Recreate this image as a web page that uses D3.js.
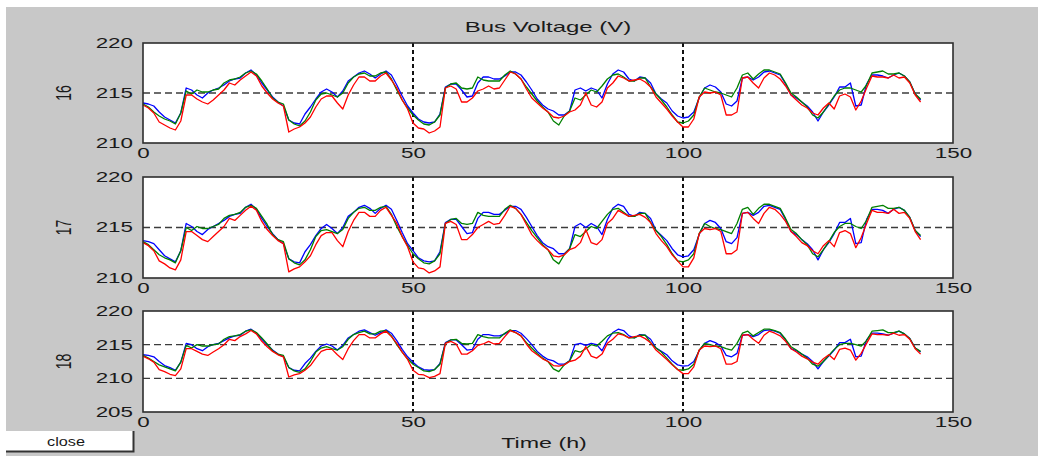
<!DOCTYPE html>
<html>
<head>
<meta charset="utf-8">
<script src="https://cdn.jsdelivr.net/npm/d3@7"></script>
<style>
    body { margin: 0; background: #fff; }
    text { font-family: "Liberation Sans", Arial, sans-serif; fill: #1a1a1a; }
</style>
</head>
<body>
<div id="chartContainer"></div>
<script>
// hourly samples, 0..144 h
const hours = d3.range(0, 145);

const xTicks = [0, 50, 100, 150];
const yTicks16 = [210, 215, 220];
const yTicks17 = [210, 215, 220];
const yTicks18 = [205, 210, 215, 220];
const busNames = ["16", "17", "18"];

const blue16 = [
    214.0,213.9,213.7,213.1,212.6,212.3,212.0,213.0,215.5,215.3,
    214.8,214.5,215.0,215.3,215.5,215.8,216.2,216.4,216.5,217.0,
    217.3,216.8,216.0,215.3,214.6,214.1,213.7,212.3,212.0,211.9,
    212.9,213.6,214.4,215.1,215.4,215.1,214.6,215.2,216.2,216.6,
    217.0,217.2,216.9,216.5,216.9,217.2,216.8,215.8,214.7,213.7,
    213.0,212.4,212.1,212.0,212.1,212.9,215.6,215.9,215.9,215.3,
    214.6,214.7,216.0,216.6,216.6,216.4,216.4,216.7,217.1,217.1,
    216.8,216.1,215.3,214.4,213.8,213.4,213.2,212.8,212.8,213.2,
    215.3,215.5,215.2,215.5,215.3,214.5,215.9,216.9,217.3,217.1,
    216.4,216.2,216.6,216.5,216.0,214.9,214.4,214.0,213.2,212.7,
    212.5,212.6,213.1,214.5,215.5,215.8,215.6,215.1,213.9,213.7,
    214.2,216.5,216.6,216.3,216.6,217.1,217.2,217.0,216.8,215.9,
    214.8,214.5,214.1,213.7,213.1,212.2,213.1,213.8,214.6,215.6,
    215.6,216.0,213.7,213.8,215.9,216.8,216.8,216.7,216.5,216.8,
    217.0,216.7,216.1,214.9,214.3
];
const green16 = [
    213.9,213.6,213.1,212.7,212.4,212.2,211.9,213.0,215.2,214.9,
    215.3,215.1,215.1,215.3,215.4,216.0,216.3,216.4,216.6,217.0,
    217.2,216.9,216.2,215.4,214.5,214.1,213.9,212.3,211.9,211.7,
    212.2,213.1,214.3,214.9,215.0,214.8,214.6,215.0,216.0,216.6,
    216.9,217.0,216.7,216.7,217.0,217.1,216.4,215.3,214.3,213.5,
    212.8,212.3,211.9,211.8,212.1,212.8,215.5,215.9,216.0,215.5,
    215.4,215.5,216.6,216.3,216.2,216.2,216.2,216.8,217.2,216.9,
    216.4,215.6,214.9,214.2,213.6,213.1,212.2,211.8,212.7,213.2,
    214.5,214.3,214.8,215.3,215.1,215.7,216.4,216.8,216.9,216.6,
    216.2,216.2,216.5,216.5,215.6,214.9,214.3,213.6,212.8,212.1,
    212.0,212.2,212.8,214.6,215.5,215.3,215.1,215.0,214.8,214.6,
    215.5,216.8,217.0,216.4,216.9,217.3,217.3,217.1,216.9,216.0,
    215.0,214.6,214.1,213.6,212.8,212.5,213.1,213.9,214.7,215.3,
    215.5,215.5,215.3,215.1,215.8,217.0,217.1,217.2,216.9,216.9,
    217.0,216.7,216.1,214.9,214.4
];
const red16 = [
    213.8,213.5,213.0,212.1,211.8,211.5,211.3,212.2,214.8,214.8,
    214.4,214.1,213.9,214.3,214.8,215.3,216.0,215.8,216.3,216.7,
    217.1,216.7,215.7,215.0,214.4,214.0,213.7,211.1,211.4,211.6,
    212.0,212.6,213.6,214.4,214.7,214.7,214.0,213.4,214.8,215.8,
    216.6,216.6,216.2,216.2,216.7,217.0,216.3,215.5,214.3,213.4,
    212.0,211.5,211.4,211.0,211.2,211.6,215.5,215.7,215.4,214.1,
    214.1,214.5,215.2,215.4,215.7,215.4,215.5,216.3,217.1,216.9,
    216.4,215.4,214.5,214.0,213.5,213.1,212.6,212.5,212.7,213.1,
    213.3,213.8,215.0,213.8,213.6,214.1,215.5,216.0,216.7,216.5,
    216.2,216.3,216.4,216.1,215.6,214.6,214.0,213.4,212.7,212.1,
    211.6,211.6,212.4,214.6,215.1,215.0,215.1,214.8,212.8,212.8,
    213.1,216.5,216.6,216.0,215.5,216.5,217.0,216.8,216.4,215.7,
    214.8,214.3,213.8,213.5,213.0,212.8,213.5,214.0,213.4,214.7,
    214.9,214.6,213.3,214.2,215.5,216.7,216.6,216.6,216.5,216.8,
    216.5,216.6,216.0,214.8,214.1
];

const blue17 = [
    213.7,213.6,213.4,212.8,212.2,211.9,211.6,212.7,215.4,215.1,
    214.6,214.3,214.8,215.1,215.4,215.7,216.1,216.3,216.4,217.0,
    217.3,216.8,215.9,215.1,214.4,213.8,213.4,211.9,211.6,211.5,
    212.6,213.3,214.2,214.9,215.3,214.9,214.4,215.0,216.1,216.5,
    217.0,217.2,216.9,216.4,216.9,217.2,216.8,215.7,214.5,213.4,
    212.7,212.0,211.7,211.6,211.7,212.6,215.5,215.8,215.8,215.1,
    214.4,214.5,215.9,216.5,216.5,216.3,216.3,216.7,217.1,217.1,
    216.8,216.0,215.1,214.2,213.5,213.1,212.9,212.4,212.4,212.9,
    215.1,215.4,215.0,215.4,215.1,214.3,215.8,216.9,217.3,217.1,
    216.3,216.1,216.5,216.4,215.9,214.7,214.2,213.7,212.9,212.3,
    212.1,212.2,212.8,214.3,215.4,215.7,215.5,214.9,213.6,213.4,
    214.0,216.4,216.5,216.2,216.5,217.1,217.2,217.0,216.8,215.8,
    214.6,214.3,213.8,213.4,212.8,211.8,212.8,213.5,214.4,215.5,
    215.5,215.9,213.4,213.5,215.8,216.8,216.8,216.7,216.4,216.8,
    217.0,216.7,216.0,214.7,214.1
];
const green17 = [
    213.6,213.3,212.8,212.3,212.0,211.8,211.5,212.7,215.0,214.7,
    215.1,214.9,214.9,215.1,215.3,215.9,216.2,216.3,216.5,217.0,
    217.2,216.9,216.1,215.3,214.3,213.8,213.6,211.9,211.5,211.3,
    211.8,212.8,214.1,214.7,214.8,214.6,214.4,214.8,215.9,216.5,
    216.9,217.0,216.7,216.7,217.0,217.1,216.3,215.1,214.1,213.2,
    212.4,211.9,211.5,211.4,211.7,212.4,215.4,215.8,215.9,215.4,
    215.3,215.4,216.5,216.2,216.1,216.1,216.1,216.8,217.2,216.9,
    216.3,215.5,214.7,214.0,213.3,212.8,211.8,211.4,212.3,212.9,
    214.3,214.1,214.6,215.1,214.9,215.6,216.3,216.8,216.9,216.5,
    216.1,216.1,216.4,216.4,215.5,214.7,214.1,213.3,212.4,211.7,
    211.6,211.8,212.4,214.4,215.4,215.1,214.9,214.8,214.6,214.4,
    215.4,216.8,217.0,216.3,216.9,217.3,217.3,217.1,216.9,215.9,
    214.8,214.4,213.8,213.3,212.4,212.1,212.8,213.6,214.5,215.1,
    215.4,215.4,215.1,214.9,215.7,217.0,217.1,217.2,216.9,216.9,
    217.0,216.7,216.0,214.7,214.2
];
const red17 = [
    213.5,213.2,212.7,211.7,211.4,211.0,210.8,211.8,214.6,214.6,
    214.2,213.8,213.6,214.1,214.6,215.1,215.9,215.7,216.2,216.7,
    217.1,216.7,215.6,214.8,214.2,213.7,213.4,210.6,210.9,211.1,
    211.6,212.2,213.3,214.2,214.5,214.5,213.7,213.1,214.6,215.7,
    216.5,216.5,216.1,216.1,216.7,217.0,216.2,215.4,214.1,213.1,
    211.6,211.0,210.9,210.5,210.7,211.1,215.4,215.6,215.3,213.8,
    213.8,214.3,215.0,215.3,215.6,215.3,215.4,216.2,217.1,216.9,
    216.3,215.3,214.3,213.7,213.2,212.8,212.2,212.1,212.3,212.8,
    213.0,213.5,214.8,213.5,213.3,213.8,215.4,215.9,216.7,216.4,
    216.1,216.2,216.3,216.0,215.5,214.4,213.7,213.1,212.3,211.7,
    211.1,211.1,212.0,214.4,214.9,214.8,214.9,214.6,212.4,212.4,
    212.8,216.4,216.5,215.9,215.4,216.4,217.0,216.8,216.3,215.6,
    214.6,214.1,213.5,213.2,212.7,212.4,213.2,213.7,213.1,214.5,
    214.7,214.4,213.0,214.0,215.4,216.7,216.5,216.5,216.4,216.8,
    216.4,216.5,215.9,214.6,213.8
];

const blue18 = [
    213.5,213.4,213.2,212.5,211.9,211.6,211.2,212.4,215.2,215.0,
    214.4,214.1,214.7,215.0,215.2,215.6,216.0,216.3,216.4,217.0,
    217.3,216.7,215.8,215.0,214.2,213.6,213.2,211.6,211.2,211.1,
    212.2,213.0,214.0,214.8,215.1,214.8,214.2,214.9,216.0,216.5,
    217.0,217.2,216.8,216.4,216.8,217.2,216.7,215.6,214.3,213.2,
    212.4,211.7,211.3,211.2,211.3,212.2,215.3,215.7,215.7,215.0,
    214.2,214.3,215.8,216.5,216.5,216.3,216.3,216.6,217.1,217.1,
    216.7,215.9,215.0,214.0,213.3,212.8,212.6,212.1,212.1,212.6,
    215.0,215.2,214.9,215.2,215.0,214.1,215.7,216.8,217.3,217.1,
    216.3,216.0,216.5,216.4,215.8,214.5,214.0,213.5,212.6,212.0,
    211.8,211.9,212.5,214.1,215.2,215.6,215.3,214.8,213.4,213.2,
    213.7,216.4,216.5,216.2,216.5,217.1,217.2,217.0,216.7,215.7,
    214.4,214.1,213.6,213.2,212.5,211.4,212.5,213.3,214.2,215.3,
    215.3,215.8,213.2,213.3,215.7,216.7,216.7,216.6,216.4,216.7,
    217.0,216.6,215.9,214.5,213.9
];
const green18 = [
    213.4,213.0,212.5,212.0,211.7,211.4,211.1,212.4,214.9,214.5,
    215.0,214.8,214.8,215.0,215.1,215.8,216.2,216.3,216.5,217.0,
    217.2,216.8,216.0,215.1,214.1,213.6,213.4,211.6,211.1,210.9,
    211.4,212.5,213.9,214.5,214.7,214.4,214.2,214.7,215.8,216.5,
    216.8,217.0,216.6,216.6,217.0,217.1,216.3,215.0,213.9,212.9,
    212.1,211.6,211.1,211.0,211.3,212.1,215.2,215.7,215.8,215.2,
    215.1,215.2,216.5,216.2,216.0,216.0,216.0,216.7,217.2,216.8,
    216.3,215.3,214.5,213.7,213.0,212.5,211.4,211.0,212.0,212.6,
    214.1,213.9,214.4,215.0,214.8,215.5,216.3,216.7,216.8,216.5,
    216.0,216.0,216.4,216.4,215.3,214.5,213.9,213.0,212.1,211.3,
    211.2,211.4,212.1,214.2,215.2,215.0,214.8,214.7,214.4,214.2,
    215.2,216.7,217.0,216.3,216.8,217.3,217.3,217.1,216.8,215.8,
    214.7,214.2,213.6,213.0,212.1,211.8,212.5,213.4,214.3,215.0,
    215.2,215.2,215.0,214.8,215.6,217.0,217.1,217.2,216.8,216.8,
    217.0,216.6,215.9,214.5,214.0
];
const red18 = [
    213.3,212.9,212.4,211.3,211.0,210.6,210.4,211.4,214.4,214.4,
    214.0,213.6,213.4,213.9,214.4,215.0,215.8,215.6,216.2,216.6,
    217.1,216.6,215.5,214.7,214.0,213.5,213.2,210.2,210.5,210.7,
    211.2,211.9,213.0,214.0,214.3,214.3,213.5,212.8,214.4,215.6,
    216.5,216.5,216.0,216.0,216.6,217.0,216.2,215.2,213.9,212.8,
    211.2,210.6,210.5,210.1,210.3,210.7,215.2,215.5,215.1,213.6,
    213.6,214.1,214.9,215.1,215.5,215.1,215.2,216.2,217.1,216.8,
    216.3,215.1,214.1,213.5,212.9,212.5,211.9,211.8,212.0,212.5,
    212.7,213.3,214.7,213.3,213.0,213.6,215.2,215.8,216.6,216.4,
    216.0,216.2,216.3,215.9,215.3,214.2,213.5,212.8,212.0,211.3,
    210.7,210.7,211.7,214.2,214.8,214.7,214.8,214.4,212.1,212.1,
    212.5,216.4,216.5,215.8,215.2,216.4,217.0,216.7,216.3,215.5,
    214.4,213.9,213.3,212.9,212.4,212.1,212.9,213.5,212.8,214.3,
    214.5,214.2,212.7,213.7,215.2,216.6,216.5,216.5,216.4,216.7,
    216.4,216.5,215.8,214.4,213.6
];

const panels = [
    { name: busNames[0], ticks: yTicks16, series: [blue16, green16, red16] },
    { name: busNames[1], ticks: yTicks17, series: [blue17, green17, red17] },
    { name: busNames[2], ticks: yTicks18, series: [blue18, green18, red18] }
];

const width = 1038, height = 456;
const plotLeft = 143, plotRight = 953;
const frames = [
    { top: 43, bottom: 143 },
    { top: 177, bottom: 278 },
    { top: 311, bottom: 412 }
];
const lineColors = ["#0000ff", "#008000", "#ff0000"];
const SX = 1.6; // the screenshot is stretched sideways

const svg = d3.select("#chartContainer")
    .append("svg")
    .attr("width", width)
    .attr("height", height);

// figure background
svg.append("rect")
    .attr("x", 6).attr("y", 7)
    .attr("width", width - 6).attr("height", height - 7)
    .attr("fill", "#c8c8c8");

const x = d3.scaleLinear().domain([0, 150]).range([plotLeft, plotRight]);

panels.forEach(function(p, i) {
    const f = frames[i];
    const y = d3.scaleLinear()
        .domain([p.ticks[0], p.ticks[p.ticks.length - 1]])
        .range([f.bottom, f.top]);

    const g = svg.append("g");

    g.append("rect")
        .attr("x", plotLeft).attr("y", f.top)
        .attr("width", plotRight - plotLeft).attr("height", f.bottom - f.top)
        .attr("fill", "#fff");

    // grid at inner ticks
    g.selectAll(".hgrid")
        .data(p.ticks.slice(1, -1))
        .enter().append("line")
        .attr("x1", plotLeft).attr("x2", plotRight)
        .attr("y1", d => y(d)).attr("y2", d => y(d))
        .attr("stroke", "#3c3c3c")
        .attr("stroke-width", 1.4)
        .attr("stroke-dasharray", "7,4");

    g.selectAll(".vgrid")
        .data(xTicks.slice(1, -1))
        .enter().append("line")
        .attr("x1", d => x(d)).attr("x2", d => x(d))
        .attr("y1", f.top).attr("y2", f.bottom)
        .attr("stroke", "#111")
        .attr("stroke-width", 2)
        .attr("stroke-dasharray", "4,3");

    const line = d3.line()
        .x((d, j) => x(hours[j]))
        .y(d => y(d));

    p.series.forEach(function(s, k) {
        g.append("path")
            .datum(s)
            .attr("d", line)
            .attr("fill", "none")
            .attr("stroke", lineColors[k])
            .attr("stroke-width", 1.3)
            .attr("stroke-linejoin", "round");
    });

    // axes box
    g.append("rect")
        .attr("x", plotLeft).attr("y", f.top)
        .attr("width", plotRight - plotLeft).attr("height", f.bottom - f.top)
        .attr("fill", "none")
        .attr("stroke", "#2e2e2e")
        .attr("stroke-width", 1.6);

    // Y-Achse
    const ya = g.append("g")
        .attr("transform", "translate(" + plotLeft + ",0)")
        .call(d3.axisLeft(y).tickValues(p.ticks).tickSize(0).tickPadding(0));
    ya.select(".domain").remove();
    ya.attr("font-size", 14).attr("font-family", null);
    ya.selectAll("text")
        .attr("x", -10 / SX)
        .attr("transform", "scale(" + SX + ",1)");

    // X-Achse
    const xa = g.append("g")
        .attr("transform", "translate(0," + f.bottom + ")")
        .call(d3.axisBottom(x).tickValues(xTicks).tickSize(0).tickPadding(0));
    xa.select(".domain").remove();
    xa.attr("font-size", 14).attr("font-family", null);
    xa.selectAll("text")
        .attr("y", 5)
        .attr("transform", "scale(" + SX + ",1)");

    // bus label
    g.append("text")
        .attr("transform", "translate(71," + ((f.top + f.bottom) / 2) + ") scale(" + SX + ",1) rotate(-90)")
        .attr("text-anchor", "middle")
        .attr("font-size", 14)
        .text(p.name);
});

svg.append("text")
    .attr("transform", "translate(548,32) scale(" + SX + ",1)")
    .attr("text-anchor", "middle")
    .attr("font-size", 15)
    .text("Bus Voltage (V)");

svg.append("text")
    .attr("transform", "translate(544,448) scale(1.55,1)")
    .attr("text-anchor", "middle")
    .attr("font-size", 15)
    .text("Time (h)");

// close button
const btn = svg.append("g");
btn.append("rect")
    .attr("x", 6).attr("y", 431)
    .attr("width", 128).attr("height", 21)
    .attr("fill", "#fff");
btn.append("path")
    .attr("d", "M6,451.5H133.5V431")
    .attr("fill", "none")
    .attr("stroke", "#333")
    .attr("stroke-width", 2);
btn.append("text")
    .attr("transform", "translate(66,446) scale(1.3,1)")
    .attr("text-anchor", "middle")
    .attr("font-size", 12.5)
    .text("close");
</script>
</body>
</html>
